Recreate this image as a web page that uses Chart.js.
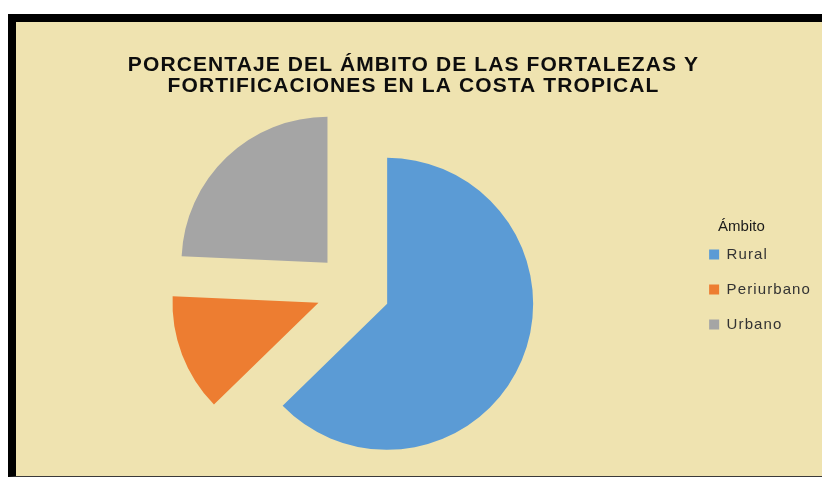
<!DOCTYPE html>
<html lang="es">
<head>
<meta charset="utf-8">
<title>Ámbito de las fortalezas</title>
<script src="https://cdn.jsdelivr.net/npm/chart.js@4.4.1/dist/chart.umd.min.js"></script>
<style>
  html, body { margin: 0; padding: 0; background: #fff; }
  #marco {
    position: absolute; left: 8px; top: 14px;
    width: 806px; height: 454px;
    border-left: 8px solid #000; border-top: 8px solid #000; border-bottom: 1px solid #3a3a3a;
    background: #EFE3B0;
  }
  canvas { display: block; }
</style>
</head>
<body>
<div id="marco"><canvas id="grafico_ambito" width="806" height="454"></canvas></div>
<script>
// Datos
const categorias = ['Rural', 'Periurbano', 'Urbano'];
const porcentajes = [62.7, 13.0, 24.3];
const colores = ['#5B9BD5', '#ED7D31', '#A5A5A5'];
const titulo = ['PORCENTAJE DEL ÁMBITO DE LAS FORTALEZAS Y', 'FORTIFICACIONES EN LA COSTA TROPICAL'];
const tituloLeyenda = 'Ámbito';

const SEPARACION = 37; // cuanto se separan las porciones del centro

// El "offset" de Chart.js también agranda el radio de las porciones grandes,
// así que se desplaza cada arco a mano a lo largo de su ángulo medio
const Arco = Chart.ArcElement || Chart.registry.getElement('arc');
const dibujarArco = Arco.prototype.draw;
Arco.prototype.draw = function (ctx) {
  const medio = (this.startAngle + this.endAngle) / 2;
  ctx.save();
  ctx.translate(Math.cos(medio) * SEPARACION, Math.sin(medio) * SEPARACION);
  dibujarArco.call(this, ctx);
  ctx.restore();
};

// Texto un poco espaciado en título y leyenda (como en el original)
const pluginEspaciado = {
  id: 'espaciado',
  beforeDraw(chart) {
    chart.ctx.letterSpacing = '1.1px';
  },
  beforeDatasetsDraw(chart) {
    chart.ctx.letterSpacing = '0px';
  }
};

// Título de la leyenda ("Ámbito"), encima del primer elemento
const pluginTituloLeyenda = {
  id: 'tituloLeyenda',
  afterDraw(chart) {
    const caja = chart.legend.legendHitBoxes[0];
    const ctx = chart.ctx;
    ctx.save();
    ctx.letterSpacing = '0px';
    ctx.font = '15px "Liberation Sans", Arial, sans-serif';
    ctx.fillStyle = '#1a1a1a';
    ctx.textAlign = 'left';
    ctx.textBaseline = 'middle';
    ctx.fillText(tituloLeyenda, caja.left + 9, caja.top - 20);
    ctx.restore();
  }
};

const ctx = document.getElementById('grafico_ambito');

new Chart(ctx, {
  type: 'pie',
  data: {
    labels: categorias,
    datasets: [{
      data: porcentajes,
      backgroundColor: colores,
      borderWidth: 0
    }]
  },
  options: {
    responsive: false,
    animation: false,
    radius: 146,
    layout: {
      padding: { left: 1, right: 12, top: 0, bottom: 1 }
    },
    plugins: {
      title: {
        display: true,
        text: titulo,
        color: '#0d0d0d',
        font: { family: '"Liberation Sans", Arial, sans-serif', size: 21, weight: 'bold', lineHeight: '21px' },
        padding: { top: 33, bottom: 7 }
      },
      legend: {
        position: 'right',
        align: 'center',
        fullSize: false,
        labels: {
          boxWidth: 10,
          boxHeight: 10,
          padding: 20,
          color: '#333',
          font: { family: '"Liberation Sans", Arial, sans-serif', size: 15 }
        }
      },
      tooltip: { enabled: false }
    }
  },
  plugins: [pluginEspaciado, pluginTituloLeyenda]
});
</script>
</body>
</html>
